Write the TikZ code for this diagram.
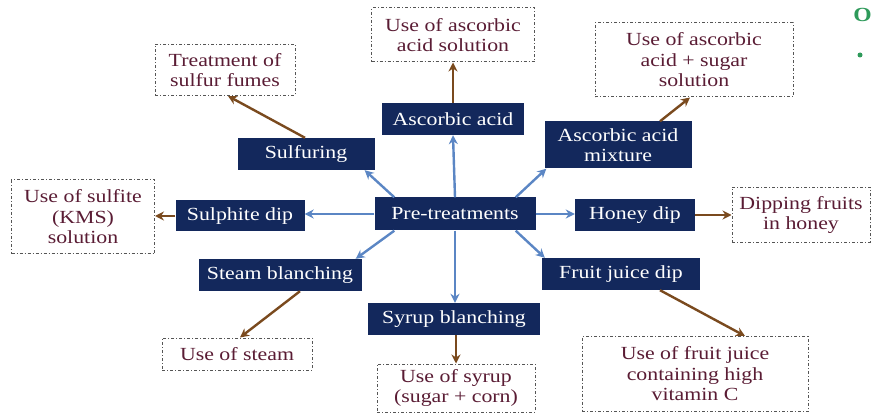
\documentclass[tikz,border=0pt]{standalone}
\usepackage{fontspec}
\setmainfont[FakeStretch=1.18]{Liberation Serif}
\usetikzlibrary{arrows.meta}
\definecolor{navy}{HTML}{13285C}
\definecolor{maroon}{HTML}{5A1C34}
\definecolor{bluearr}{HTML}{5B86C4}
\definecolor{brownarr}{HTML}{7A4A1E}
\definecolor{dashgray}{HTML}{555555}
\definecolor{slidegreen}{HTML}{2E9A5A}
\tikzset{
  mainbox/.style={fill=navy, draw=none, text=white, inner sep=0pt, align=center,
    font=\fontsize{18.5}{19.5}\selectfont},
  notebox/.style={draw=dashgray, line width=1pt, dash pattern=on 3pt off 2pt on 1pt off 2pt,
    fill=white, text=maroon, inner sep=0pt, align=center, font=\fontsize{18.5}{20.5}\selectfont},
  bluearrow/.style={draw=bluearr, line width=2.4pt, -{Stealth[length=9pt,width=9pt]}},
  brownarrow/.style={draw=brownarr, line width=2.4pt, -{Stealth[length=9pt,width=9pt]}},
}
\begin{document}
\begin{tikzpicture}[x=1pt,y=-1pt]
\useasboundingbox (0,0) rectangle (873,414);
% main nodes
\node[mainbox, minimum width=161pt, minimum height=33pt] (pre) at (455,214) {Pre-treatments};
\node[mainbox, minimum width=142pt, minimum height=32pt] (asc) at (453,119) {Ascorbic acid};
\node[mainbox, minimum width=137pt, minimum height=32pt] (sulf) at (306,154) {Sulfuring};
\node[mainbox, minimum width=147pt, minimum height=47pt] (mix) at (618,145) {Ascorbic acid\\mixture};
\node[mainbox, minimum width=129pt, minimum height=31pt] (sdip) at (240,216) {Sulphite dip};
\node[mainbox, minimum width=120pt, minimum height=32pt] (honey) at (635,215) {Honey dip};
\node[mainbox, minimum width=163pt, minimum height=32pt] (steam) at (280,275) {Steam blanching};
\node[mainbox, minimum width=158pt, minimum height=32pt] (fruit) at (621,274) {Fruit juice dip};
\node[mainbox, minimum width=172pt, minimum height=32pt] (syrup) at (454,319) {Syrup blanching};
% note boxes
\node[notebox, minimum width=163pt, minimum height=54pt] (n-asc) at (453,35) {Use of ascorbic\\acid solution};
\node[notebox, minimum width=140pt, minimum height=51pt] (n-sulf) at (225,70) {Treatment of\\sulfur fumes};
\node[notebox, minimum width=198pt, minimum height=74pt] (n-mix) at (694,60) {Use of ascorbic\\acid + sugar\\solution};
\node[notebox, minimum width=143pt, minimum height=74pt] (n-sdip) at (83,217) {Use of sulfite\\(KMS)\\solution};
\node[notebox, minimum width=138pt, minimum height=55pt] (n-honey) at (801,215) {Dipping fruits\\in honey};
\node[notebox, minimum width=150pt, minimum height=32pt] (n-steam) at (237,354) {Use of steam};
\node[notebox, minimum width=158pt, minimum height=48pt] (n-syrup) at (456,388) {Use of syrup\\(sugar + corn)};
\node[notebox, minimum width=226pt, minimum height=75pt] (n-fruit) at (695,374) {Use of fruit juice\\containing high\\vitamin C};
% blue arrows
\draw[bluearrow] (pre.north) -- (asc.south);
\draw[bluearrow] ([xshift=20pt]pre.north west) -- ([xshift=-10pt]sulf.south east);
\draw[bluearrow] ([xshift=-20pt]pre.north east) -- ([xshift=2pt]mix.south west);
\draw[bluearrow] (pre.west) -- (sdip.east |- pre.west);
\draw[bluearrow] (pre.east) -- (honey.west |- pre.east);
\draw[bluearrow] ([xshift=20pt]pre.south west) -- ([xshift=-6pt]steam.north east);
\draw[bluearrow] ([xshift=-20pt]pre.south east) -- ([xshift=3pt]fruit.north west);
\draw[bluearrow] (pre.south) -- (syrup.north -| pre.south);
% brown arrows
\draw[brownarrow] (asc.north) -- (n-asc.south);
\draw[brownarrow] ([xshift=-1pt]sulf.north) -- ([xshift=3pt]n-sulf.south);
\draw[brownarrow] ([xshift=42pt]mix.north) -- ([xshift=-4pt]n-mix.south);
\draw[brownarrow] (sdip.west) -- (n-sdip.east |- sdip.west);
\draw[brownarrow] (honey.east) -- (n-honey.west |- honey.east);
\draw[brownarrow] ([xshift=20pt]steam.south) -- ([xshift=3pt]n-steam.north);
\draw[brownarrow] ([xshift=39pt]fruit.south) -- ([xshift=50pt]n-fruit.north);
\draw[brownarrow] (syrup.south -| n-syrup.north) -- (n-syrup.north);
% slide fragments at the right edge
\node[text=slidegreen, font=\fontsize{20}{22}\selectfont\bfseries, anchor=east, inner sep=0pt] (o) at (872,15) {O};
\fill[slidegreen] (860,55) circle (2.5pt);
\end{tikzpicture}
\end{document}
